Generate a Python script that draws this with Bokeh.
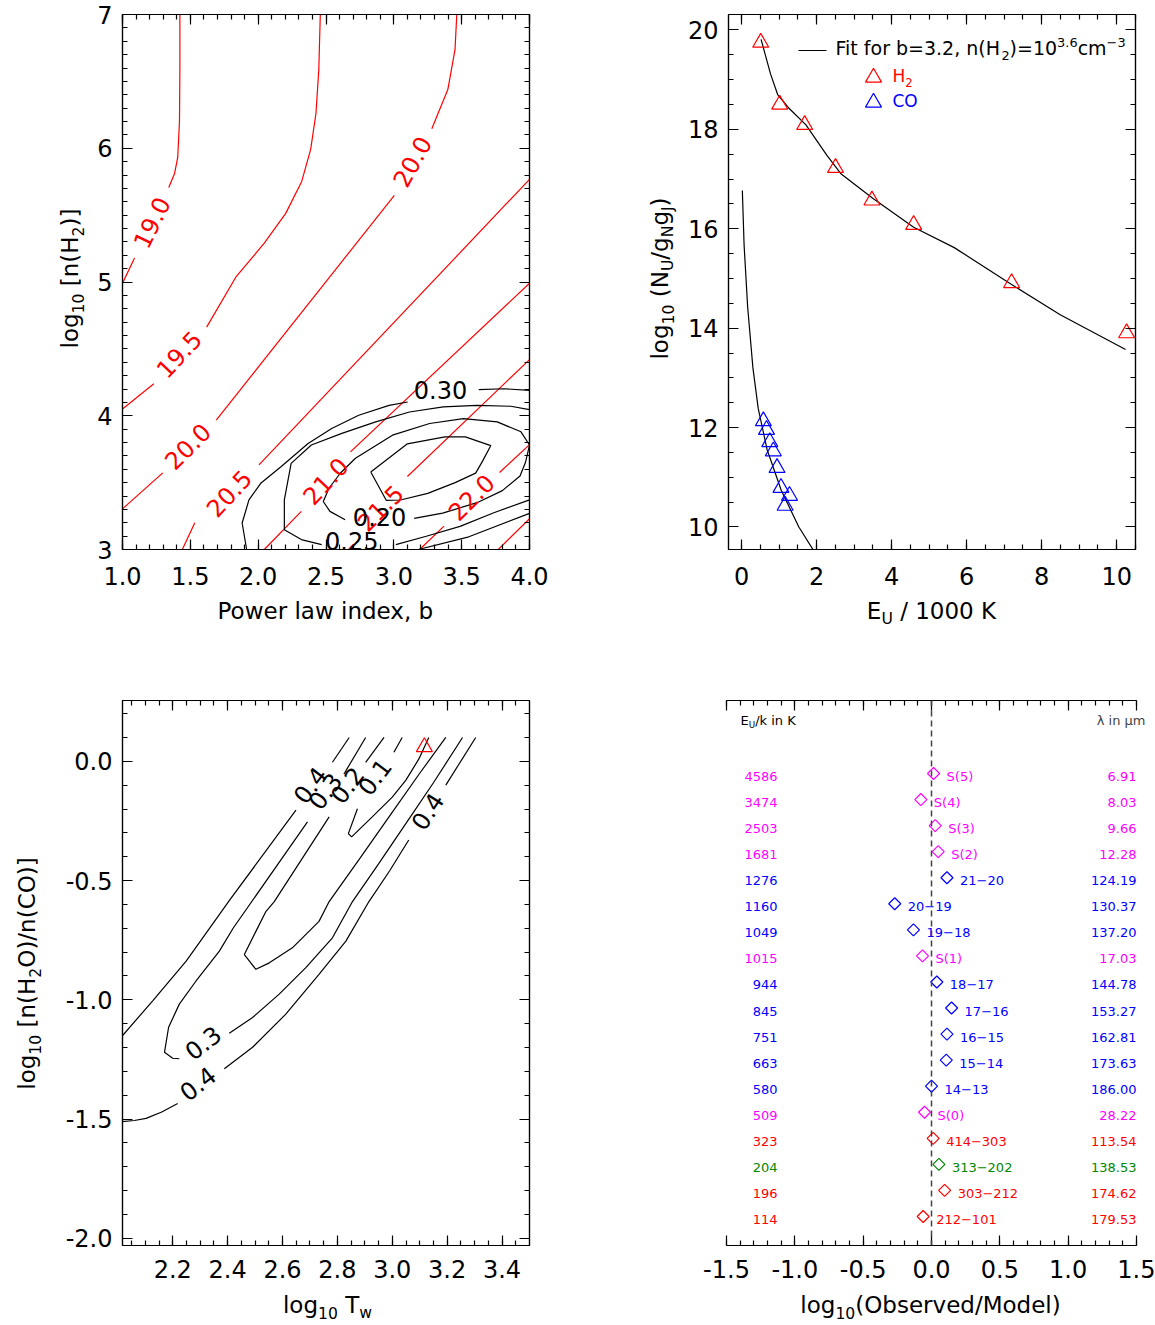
import numpy as np
from bokeh.plotting import figure
from bokeh.layouts import row, column
from bokeh.models import (Range1d, LinearAxis, SingleIntervalTicker, PrintfTickFormatter,
                          CustomJSTickFormatter, Label, Span, ColumnDataSource)
from bokeh.embed import file_html
from bokeh.resources import INLINE
from bokeh.core.properties import value

FONT = "DejaVu Sans"
RED, BLUE, MAGENTA, GREEN, BLACK = "#FF0000", "#0000FF", "#FF00FF", "#008800", "#000000"

# ================= Panel A (top-left): log10 n(H2) vs power-law index b =================
# red contours of log10 N(H2); pieces separated where the contour labels sit
nh2_190_x = [[1.423, 1.423, 1.420, 1.407, 1.384, 1.341], [1.089, 1.000]]
nh2_190_y = [[7.000, 6.588, 6.200, 5.931, 5.812, 5.707], [5.179, 4.991]]
nh2_195_x = [[2.458, 2.447, 2.426, 2.387, 2.321, 2.203, 2.045, 1.835, 1.620], [1.231, 1.000]]
nh2_195_y = [[7.000, 6.588, 6.260, 5.991, 5.752, 5.513, 5.290, 5.036, 4.663], [4.239, 4.051]]
nh2_200_x = [[3.464, 3.451, 3.398, 3.280], [3.004, 1.691], [1.297, 1.000]]
nh2_200_y = [[7.000, 6.737, 6.439, 6.146], [5.648, 3.967], [3.573, 3.304]]
nh2_205_x = [[4.000, 2.006], [1.533, 1.441]]
nh2_205_y = [[5.767, 3.633], [3.200, 3.000]]
nh2_210_x = [[4.000, 2.680], [2.318, 2.045]]
nh2_210_y = [[4.991, 3.730], [3.285, 3.000]]
nh2_215_x = [[4.000, 3.100], [2.703, 2.666]]
nh2_215_y = [[4.420, 3.546], [3.039, 3.000]]
nh2_220_x = [[4.000, 3.779], [3.370, 3.190]]
nh2_220_y = [[3.784, 3.576], [3.175, 3.000]]
nh2_225_x = [[4.000, 3.770]]
nh2_225_y = [[3.230, 3.000]]
nh2_lab = ["19.0", "19.5", "20.0", "20.0", "20.5", "21.0", "21.5", "22.0"]
nh2_lab_x = [1.215, 1.415, 3.135, 1.480, 1.785, 2.495, 2.900, 3.570]
nh2_lab_y = [5.445, 4.460, 5.900, 3.772, 3.420, 3.512, 3.310, 3.390]
nh2_lab_angle = [64, 47, 61, 45, 47, 47, 45, 45]

# black contours of the fit residual
chi_015_x = [[2.830, 3.100, 3.376, 3.527, 3.715, 3.653, 3.603, 3.452, 3.250, 3.049, 2.945, 2.830]]
chi_015_y = [[3.580, 3.790, 3.842, 3.842, 3.777, 3.659, 3.571, 3.500, 3.420, 3.370, 3.367, 3.580]]
chi_020_x = [[2.641, 2.529, 2.480, 2.522, 2.605, 2.717, 2.990, 3.264, 3.513, 3.762, 3.937, 4.000,
              3.970, 3.930, 3.800, 3.613, 3.360, 3.150]]
chi_020_y = [[3.223, 3.285, 3.359, 3.458, 3.570, 3.682, 3.855, 3.942, 3.979, 3.954, 3.880, 3.781,
              3.650, 3.550, 3.440, 3.350, 3.272, 3.233]]
chi_025_x = [[2.468, 2.318, 2.193, 2.193, 2.243, 2.392, 2.617, 2.866, 3.115, 3.364, 3.613, 3.862, 4.000],
             [3.015, 3.239, 3.488, 3.737, 4.000]]
chi_025_y = [[3.037, 3.074, 3.148, 3.371, 3.644, 3.781, 3.868, 3.954, 4.028, 4.066, 4.078, 4.071, 4.046],
             [3.037, 3.099, 3.173, 3.275, 3.371]]
chi_030_x = [[1.915, 1.882, 1.932, 2.019, 2.168, 2.368, 2.542, 2.741, 2.965, 3.102],
             [3.626, 3.812, 4.000], [3.180, 3.553, 4.000]]
chi_030_y = [[3.000, 3.198, 3.371, 3.495, 3.619, 3.793, 3.905, 4.004, 4.078, 4.103],
             [4.195, 4.202, 4.190], [3.000, 3.095, 3.270]]
chi_lab = ["0.30", "0.25", "0.20"]
chi_lab_x = [3.344, 2.690, 2.895]
chi_lab_y = [4.190, 3.065, 3.240]

# ================= Panel B (top-right): rotation diagram =================
h2_eu = [0.509, 1.015, 1.681, 2.503, 3.474, 4.586, 7.197, 10.263]          # E_U / 1000 K
h2_lognu = [19.745, 18.50, 18.09, 17.225, 16.57, 16.08, 14.91, 13.90]
co_eu = [0.580, 0.663, 0.751, 0.845, 0.944, 1.049, 1.160, 1.276]
co_lognu = [12.13, 11.955, 11.71, 11.525, 11.19, 10.79, 10.43, 10.63]
fit_h2_x = [0.518, 0.772, 0.960, 1.243, 1.714, 2.279, 2.655, 3.503, 4.586, 5.669, 7.175, 8.493, 10.235]
fit_h2_y = [19.81, 19.11, 18.70, 18.44, 18.09, 17.47, 17.10, 16.61, 16.03, 15.62, 14.89, 14.27, 13.57]
fit_co_x = [0.019, 0.066, 0.160, 0.301, 0.443, 0.678, 1.055, 1.525, 1.949]
fit_co_y = [16.77, 15.67, 14.43, 13.20, 12.38, 11.56, 10.74, 10.00, 9.49]

# ================= Panel C (bottom-left): water abundance vs warm temperature =================
r04_x = [[2.012, 2.127, 2.249, 2.406, 2.649], [2.782, 2.843], [2.012, 2.060, 2.103, 2.160, 2.218],
         [2.388, 2.491, 2.612, 2.733, 2.831, 2.915, 2.990, 3.060], [3.195, 3.304]]
r04_y = [[-1.157, -1.004, -0.838, -0.584, -0.205], [-0.004, 0.100], [-1.511, -1.506, -1.497, -1.470, -1.435],
         [-1.289, -1.199, -1.060, -0.893, -0.754, -0.588, -0.460, -0.330], [-0.100, 0.100]]
r03_x = [[2.224, 2.200, 2.170, 2.185, 2.224, 2.285, 2.370, 2.420, 2.691], [2.824, 2.903],
         [2.406, 2.491, 2.588, 2.685, 2.782, 2.855, 2.950, 3.050, 3.150, 3.256]]
r03_y = [[-1.247, -1.245, -1.220, -1.115, -1.018, -0.921, -0.796, -0.700, -0.254], [-0.053, 0.100],
         [-1.140, -1.074, -0.976, -0.865, -0.740, -0.588, -0.430, -0.260, -0.090, 0.100]]
r02_x = [[2.770, 2.570, 2.540, 2.503, 2.461, 2.503, 2.552, 2.636, 2.733, 2.770, 2.880, 2.990, 3.100, 3.195],
         [2.903, 2.970]]
r02_y = [[-0.233, -0.588, -0.629, -0.713, -0.810, -0.872, -0.845, -0.782, -0.671, -0.588, -0.410, -0.230, -0.050, 0.100],
         [-0.004, 0.100]]
r01_x = [[2.873, 2.840, 2.852, 2.927, 3.000, 3.049, 3.097, 3.133], [3.006, 3.036]]
r01_y = [[-0.199, -0.303, -0.317, -0.233, -0.150, -0.080, 0.010, 0.100], [0.038, 0.100]]
rat_lab = ["0.4", "0.3", "0.2", "0.1", "0.3", "0.4", "0.4"]
rat_lab_x = [2.700, 2.755, 2.835, 2.935, 2.310, 2.291, 3.128]
rat_lab_y = [-0.100, -0.125, -0.100, -0.065, -1.180, -1.351, -0.210]
rat_lab_angle = [53, 53, 53, 53, 38, 38, 57]
best_logT = [3.117]
best_ratio = [0.060]

# ================= Panel D (bottom-right): observed / model per line =================
d_eu = ["4586", "3474", "2503", "1681", "1276", "1160", "1049", "1015", "944",
        "845", "751", "663", "580", "509", "323", "204", "196", "114"]
d_line = ["S(5)", "S(4)", "S(3)", "S(2)", "21\u221220", "20\u221219", "19\u221218", "S(1)", "18\u221217",
          "17\u221216", "16\u221215", "15\u221214", "14\u221213", "S(0)", "414\u2212303", "313\u2212202",
          "303\u2212212", "212\u2212101"]
d_lambda = ["6.91", "8.03", "9.66", "12.28", "124.19", "130.37", "137.20", "17.03", "144.78",
            "153.27", "162.81", "173.63", "186.00", "28.22", "113.54", "138.53", "174.62", "179.53"]
d_logratio = [0.015, -0.078, 0.027, 0.049, 0.113, -0.269, -0.132, -0.066, 0.039,
              0.147, 0.113, 0.108, 0.000, -0.051, 0.012, 0.054, 0.096, -0.061]
d_species = ["H2", "H2", "H2", "H2", "CO", "CO", "CO", "H2", "CO",
             "CO", "CO", "CO", "CO", "H2", "oH2O", "pH2O", "oH2O", "oH2O"]

# ================= helpers =================
WID = {' ': .318, '(': .390, ')': .390, ',': .318, '-': .361, '.': .318, '/': .337, '=': .838,
       '[': .390, ']': .390, 'C': .698, 'E': .632, 'F': .575, 'H': .752, 'J': .295, 'K': .656,
       'M': .863, 'N': .748, 'O': .787, 'P': .603, 'S': .635, 'T': .611, 'U': .732,
       'a': .613, 'b': .635, 'c': .550, 'd': .635, 'e': .615, 'f': .352, 'g': .635, 'i': .278,
       'k': .579, 'l': .278, 'm': .974, 'n': .634, 'o': .612, 'r': .411, 's': .521, 't': .392,
       'v': .592, 'w': .818, 'x': .592, '\u2212': .838}
for _d in "0123456789":
    WID[_d] = .636

BASE_FIX = 0.38     # observed drop of "alphabetic" text (em)
ROT_FIX = 45.0      # observed forward drift of rotated labels (px)


def text_w(s, fs):
    return sum(WID.get(c, 0.6) for c in s) * fs


def compose(p, fl, fb, pieces, px, py, angle=0.0, size=23.0, color=BLACK, align="left"):
    """Texts made of normal/sub/sup pieces; px,py page pixels (baseline), fl/fb the frame's page left/bottom."""
    a = np.deg2rad(angle)
    ca, sa = np.cos(a), np.sin(a)

    def fsz(k):
        return size if k == "n" else size * 0.68
    total = sum(text_w(t, fsz(k)) for t, k in pieces)
    pos = -total / 2.0 if align == "center" else 0.0
    if abs(angle) > 1:
        pos -= ROT_FIX
    x0, y0 = px - fl, fb - py
    for t, k in pieces:
        fs = fsz(k)
        off = 0.0 if k == "n" else (-0.24 * size if k == "sub" else 0.42 * size)
        off += BASE_FIX * fs
        lead = len(t) - len(t.lstrip(" "))
        pos += lead * WID[" "] * fs
        core = t.strip(" ")
        if core:
            x = x0 + pos * ca - off * sa
            y = y0 + pos * sa + off * ca
            p.add_layout(Label(x=x, y=y, x_units="screen", y_units="screen", text=core, angle=a,
                               text_font=FONT, text_font_size="%.1fpx" % fs, text_color=color,
                               text_align="left", text_baseline="alphabetic"))
        pos += text_w(core, fs)
        trail = len(t) - len(t.rstrip(" ")) if core else 0
        pos += trail * WID[" "] * fs


def base_fig(w, h, xr, yr, ml, mr, mt, mb, outline=True):
    p = figure(width=w, height=h, x_range=Range1d(*xr), y_range=Range1d(*yr),
               x_axis_location=None, y_axis_location=None, output_backend="svg",
               toolbar_location=None, min_border_left=ml, min_border_right=mr,
               min_border_top=mt, min_border_bottom=mb)
    p.grid.visible = False
    p.outline_line_color = BLACK if outline else None
    p.outline_line_width = 1.2
    p.background_fill_color = "white"
    p.border_fill_color = "white"
    return p


def title_fig(w, h):
    return base_fig(w, h, (0, 1), (0, 1), 0, 0, 0, 0, outline=False)


def add_axis(p, side, interval, minor, fmt=None, standoff=10, font_size="24px", bounds=None):
    ax = LinearAxis(ticker=SingleIntervalTicker(interval=interval, num_minor_ticks=minor))
    if bounds is not None:
        ax.bounds = bounds
    ax.major_tick_in, ax.major_tick_out = 10, 0
    ax.minor_tick_in, ax.minor_tick_out = 5, 0
    ax.axis_line_color = BLACK
    ax.axis_line_width = 1.2
    ax.major_tick_line_color = BLACK
    ax.major_tick_line_width = 1.2
    ax.minor_tick_line_color = BLACK
    ax.minor_tick_line_width = 1.2
    if fmt:
        ax.formatter = PrintfTickFormatter(format=fmt)
        ax.major_label_text_font = FONT
        ax.major_label_text_font_size = font_size
        ax.major_label_text_color = BLACK
        ax.major_label_standoff = standoff
    else:
        ax.formatter = CustomJSTickFormatter(code="return ''")
        ax.major_label_text_font_size = "0px"
        ax.major_label_standoff = 0
    p.add_layout(ax, side)
    return ax


def text_kw(size="24px"):
    return dict(text_font=value(FONT), text_font_size=value(size))


# ================= Panel A =================
# figure at page x 88..600, y 0..596 ; frame 122..529 x 14..549
tl = base_fig(512, 596, (1.0, 4.0), (3.0, 7.0), 34, 71, 14, 47)
add_axis(tl, "below", 0.5, 5, "%.1f", standoff=17)
add_axis(tl, "left", 1, 10, "%d")
add_axis(tl, "above", 0.5, 5)
add_axis(tl, "right", 1, 10)
red_xs = nh2_190_x + nh2_195_x + nh2_200_x + nh2_205_x + nh2_210_x + nh2_215_x + nh2_220_x + nh2_225_x
red_ys = nh2_190_y + nh2_195_y + nh2_200_y + nh2_205_y + nh2_210_y + nh2_215_y + nh2_220_y + nh2_225_y
tl.multi_line(xs=red_xs, ys=red_ys, line_color=RED, line_width=1.2)
blk_xs = chi_015_x + chi_020_x + chi_025_x + chi_030_x
blk_ys = chi_015_y + chi_020_y + chi_025_y + chi_030_y
tl.multi_line(xs=blk_xs, ys=blk_ys, line_color=BLACK, line_width=1.2)
tl.text(x=nh2_lab_x, y=nh2_lab_y, text=nh2_lab, angle=list(np.deg2rad(nh2_lab_angle)),
        text_color=RED, text_align="center", text_baseline="middle", **text_kw())
tl.text(x=chi_lab_x, y=chi_lab_y, text=chi_lab, text_color=BLACK,
        text_align="center", text_baseline="middle", **text_kw())

a_yt = title_fig(88, 596)      # page x 0..88
compose(a_yt, 0, 596, [("log", "n"), ("10", "sub"), (" [n(H", "n"), ("2", "sub"), (")]", "n")],
        78, 280, angle=90, align="center")

# ================= Panel B =================
# figure at page x 683..1155, y 0..596 ; frame 728..1135 x 14..549
TR_L, TR_B, TR_W, TR_H = 728, 549, 407, 535
TR_XR, TR_YR = (-0.35, 10.5), (9.547, 20.31)
tr = base_fig(472, 596, TR_XR, TR_YR, 45, 20, 14, 47)
add_axis(tr, "below", 2, 4, "%d", standoff=17)
add_axis(tr, "left", 2, 4, "%d")
add_axis(tr, "above", 2, 4)
add_axis(tr, "right", 2, 4)
tr.line(fit_h2_x, fit_h2_y, line_color=BLACK, line_width=1.2)
tr.line(fit_co_x, fit_co_y, line_color=BLACK, line_width=1.2)
tr.scatter(h2_eu, h2_lognu, marker="triangle", size=16, fill_color=None, line_color=RED, line_width=1.2)
tr.scatter(co_eu, co_lognu, marker="triangle", size=16, fill_color=None, line_color=BLUE, line_width=1.2)


def tr_data(px, py):
    return (TR_XR[0] + (px - TR_L) * (TR_XR[1] - TR_XR[0]) / TR_W,
            TR_YR[0] + (TR_B - py) * (TR_YR[1] - TR_YR[0]) / TR_H)


lx0, ly0 = tr_data(798, 50)
lx1, _ = tr_data(826, 50)
tr.line([lx0, lx1], [ly0, ly0], line_color=BLACK, line_width=1.2)
kx, ky1 = tr_data(873, 77)
_, ky2 = tr_data(873, 102)
tr.scatter([kx], [ky1], marker="triangle", size=16, fill_color=None, line_color=RED, line_width=1.2)
tr.scatter([kx], [ky2], marker="triangle", size=16, fill_color=None, line_color=BLUE, line_width=1.2)
compose(tr, TR_L, TR_B, [("Fit for b=3.2, n(H", "n"), ("2", "sub"), (")=10", "n"), ("3.6", "sup"),
                          ("cm", "n"), ("\u22123", "sup")], 835, 55, size=19)
compose(tr, TR_L, TR_B, [("H", "n"), ("2", "sub")], 892, 82, size=17, color=RED)
compose(tr, TR_L, TR_B, [("CO", "n")], 892, 107, size=17, color=BLUE)

b_yt = title_fig(83, 596)      # page x 600..683
compose(b_yt, 600, 596, [("log", "n"), ("10", "sub"), (" (N", "n"), ("U", "sub"), ("/g", "n"),
                          ("N", "sub"), ("g", "n"), ("J", "sub"), (")", "n")],
        668, 280, angle=90, align="center")

# x-axis titles of the top row: page y 596..635
a_xt = title_fig(600, 39)
compose(a_xt, 0, 635, [("Power law index, b", "n")], 325.5, 619, align="center")
b_xt = title_fig(555, 39)
compose(b_xt, 600, 635, [("E", "n"), ("U", "sub"), (" / 1000 K", "n")], 931, 619, align="center")

# ================= Panel C =================
# figure at page x 62..600, y 635..1290 ; frame 122..529 x 698..1245
bl = base_fig(538, 655, (2.017, 3.5), (-2.03, 0.255), 60, 71, 63, 45)
add_axis(bl, "below", 0.2, 4, "%.1f", standoff=14)
add_axis(bl, "left", 0.5, 5, "%.1f")
add_axis(bl, "above", 0.2, 4)
add_axis(bl, "right", 0.5, 5)
bl.multi_line(xs=r04_x + r03_x + r02_x + r01_x, ys=r04_y + r03_y + r02_y + r01_y,
              line_color=BLACK, line_width=1.2)
bl.text(x=rat_lab_x, y=rat_lab_y, text=rat_lab, angle=list(np.deg2rad(rat_lab_angle)),
        text_color=BLACK, text_align="center", text_baseline="middle", **text_kw())
bl.scatter(best_logT, best_ratio, marker="triangle", size=16, fill_color=None, line_color=RED, line_width=1.2)

c_yt = title_fig(62, 655)      # page x 0..62
compose(c_yt, 0, 1290, [("log", "n"), ("10", "sub"), (" [n(H", "n"), ("2", "sub"), ("O)/n(CO)]", "n")],
        35, 973, angle=90, align="center")

# ================= Panel D =================
# figure at page x 600..1155, y 635..1290 ; frame 726..1152 x 700..1245 (axes bounded to -1.5..1.5)
BR_L, BR_B = 726, 1245
species_color = {"H2": MAGENTA, "CO": BLUE, "oH2O": RED, "pH2O": GREEN}
n_rows = len(d_eu)
rows_y = [n_rows - 1 - i for i in range(n_rows)]
src = ColumnDataSource(dict(
    ratio=d_logratio, y=rows_y, yt=[v - 0.115 for v in rows_y],
    eu=d_eu, line=d_line, lam=d_lambda,
    color=[species_color[s] for s in d_species]))
br = base_fig(555, 655, (-1.5, 1.617), (-1.113, 19.801), 126, 3, 65, 45, outline=False)
add_axis(br, "below", 0.5, 5, "%.1f", standoff=14, bounds=(-1.5, 1.5))
add_axis(br, "above", 0.5, 5, bounds=(-1.5, 1.5))
br.add_layout(Span(location=0, dimension="height", line_dash="6 4", line_color="#444444", line_width=1.5))
br.scatter("ratio", "y", source=src, marker="square", angle=np.pi / 4, size=8.5,
           fill_color=None, line_color="color", line_width=1.2)
br.text(x=-1.127, y="yt", text="eu", source=src, text_color="color",
        text_align="right", text_baseline="middle", **text_kw("13px"))
br.text(x="ratio", y="yt", text="line", source=src, text_color="color", x_offset=13,
        text_align="left", text_baseline="middle", **text_kw("13px"))
br.text(x=1.5, y="yt", text="lam", source=src, text_color="color",
        text_align="right", text_baseline="middle", **text_kw("13px"))
compose(br, BR_L, BR_B, [("E", "n"), ("U", "sub"), ("/k in K", "n")], 740, 725, size=13)
br.add_layout(Label(x=1145 - BR_L, y=BR_B - 725 + BASE_FIX * 13, x_units="screen", y_units="screen",
                    text="\u03bb in \u03bcm", text_font=FONT, text_font_size="13px",
                    text_align="right", text_baseline="alphabetic"))

# x-axis titles of the bottom row: page y 1290..1325
c_xt = title_fig(600, 35)
compose(c_xt, 0, 1325, [("log", "n"), ("10", "sub"), (" T", "n"), ("w", "sub")], 327, 1313, align="center")
d_xt = title_fig(555, 35)
compose(d_xt, 600, 1325, [("log", "n"), ("10", "sub"), ("(Observed/Model)", "n")], 930, 1313, align="center")

layout = column(
    row(a_yt, tl, b_yt, tr),
    row(a_xt, b_xt),
    row(c_yt, bl, br),
    row(c_xt, d_xt),
)
open("out.html", "w").write(file_html(layout, INLINE))
